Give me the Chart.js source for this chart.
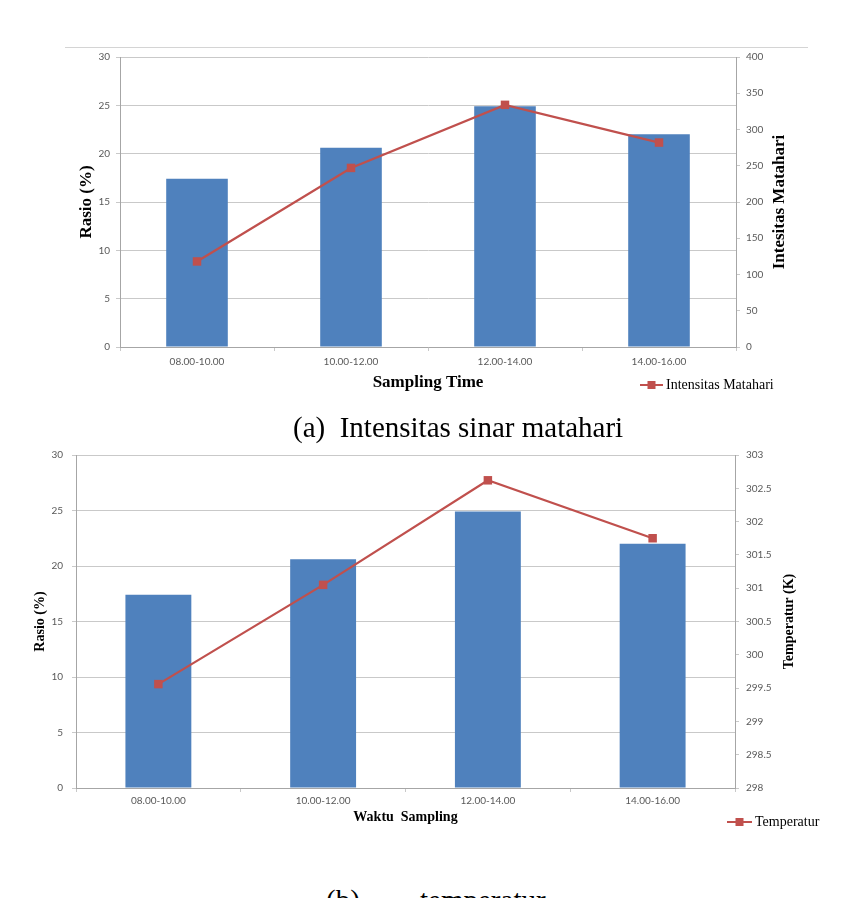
<!DOCTYPE html>
<html>
<head>
<meta charset="utf-8">
<script src="https://cdn.jsdelivr.net/npm/chart.js@4.4.1/dist/chart.umd.min.js"></script>
<style>
  html, body { margin: 0; padding: 0; background: #fff; }
  body { width: 853px; height: 898px; position: relative; overflow: hidden; }
  canvas { position: absolute; left: 0; }
  #chartA { top: 0; }
  #chartB { top: 400px; }
  .rule { position: absolute; left: 65px; width: 743px; top: 47px; border-top: 1px solid #d4d4d4; }
  .caption {
    position: absolute;
    font-family: "Liberation Serif", "Times New Roman", serif;
    font-size: 29px;
    line-height: 29px;
    color: #000;
    white-space: pre;
  }
</style>
</head>
<body>
<div class="rule"></div>
<canvas id="chartA" width="853" height="400"></canvas>
<canvas id="chartB" width="853" height="440"></canvas>
<div class="caption" style="left:293px; top:413px;">(a)  Intensitas sinar matahari</div>
<div class="caption" style="left:326px; top:886px;">(b)</div>
<div class="caption" style="left:420px; top:886px;">temperatur</div>

<script>
// --- data ---
const timeSlots = ["08.00-10.00", "10.00-12.00", "12.00-14.00", "14.00-16.00"];
const rasio = [17.4, 20.6, 24.9, 22.0];          // bars, left axis (%)
const intensitas = [118, 247, 334, 282];          // line, right axis (a)
const temperatur = [299.56, 301.05, 302.62, 301.75]; // line, right axis (b), K

const rasioRange = [0, 30, 5];
const intensitasRange = [0, 400, 50];
const temperaturRange = [298, 303, 0.5];

// --- styling ---
const BAR_BLUE = "#4f81bd";
const LINE_RED = "#c0504d";
const GRID = "#c9c9c9";
const AXIS = "#a6a6a6";
const TICK = "#595959";
const SERIF = "'Liberation Serif', 'Times New Roman', serif";
const SANS = "Lato, 'Open Sans', sans-serif";

/**
 * Right-hand axis title, written bottom-to-top like the left one
 * (Chart.js would rotate a right axis title the other way).
 */
const sideTitlePlugin = {
  id: "sideTitle",
  afterDraw(chart, args, opts) {
    if (!opts.text) return;
    const area = chart.chartArea;
    const ctx = chart.ctx;
    ctx.save();
    ctx.translate(area.right + opts.offset, (area.top + area.bottom) / 2);
    ctx.rotate(-Math.PI / 2);
    ctx.font = opts.font;
    ctx.fillStyle = "#000";
    ctx.textAlign = "center";
    ctx.textBaseline = "middle";
    ctx.fillText(opts.text, 0, 0);
    ctx.restore();
  }
};

/**
 * Excel-style legend key for the line series: —■— Label
 */
const lineKeyPlugin = {
  id: "lineKey",
  afterDraw(chart, args, opts) {
    if (!opts.text) return;
    const ctx = chart.ctx;
    const x = chart.chartArea.right + opts.dx;
    const y = chart.chartArea.bottom + opts.dy;
    ctx.save();
    ctx.strokeStyle = LINE_RED;
    ctx.lineWidth = 2;
    ctx.beginPath();
    ctx.moveTo(x, y);
    ctx.lineTo(x + opts.lineLen, y);
    ctx.stroke();
    ctx.fillStyle = LINE_RED;
    ctx.fillRect(x + opts.lineLen / 2 - opts.box / 2, y - opts.box / 2, opts.box, opts.box);
    ctx.font = opts.font;
    ctx.fillStyle = "#000";
    ctx.textAlign = "left";
    ctx.textBaseline = "middle";
    ctx.fillText(opts.text, x + opts.lineLen + 3, y);
    ctx.restore();
  }
};

// Excel drops the trailing ".0" (303, 302.5, 302 ...)
const plainNumber = (value) => String(Number(value.toFixed(1)));

function buildChart(canvasId, s) {
  const ctx = document.getElementById(canvasId).getContext("2d");
  const tickFont = { family: SANS, size: 10 };

  return new Chart(ctx, {
    type: "bar",
    data: {
      labels: timeSlots,
      datasets: [
        {
          type: "line",
          label: s.lineLabel,
          data: s.lineData,
          yAxisID: "y1",
          borderColor: LINE_RED,
          borderWidth: 2.25,
          pointStyle: "rect",
          pointRadius: 6,
          pointBackgroundColor: LINE_RED,
          pointBorderWidth: 0,
          tension: 0,
          order: 0
        },
        {
          type: "bar",
          label: "Rasio",
          data: rasio,
          yAxisID: "y",
          backgroundColor: BAR_BLUE,
          categoryPercentage: 1,
          barPercentage: 0.4,
          order: 1
        }
      ]
    },
    options: {
      responsive: false,
      animation: false,
      layout: { padding: s.padding },
      plugins: {
        legend: { display: false },
        tooltip: { enabled: false },
        sideTitle: { text: s.rightTitle, font: s.titleFont, offset: s.rightTitleOffset },
        lineKey: s.key
      },
      scales: {
        x: {
          grid: { drawOnChartArea: false, offset: true, tickLength: 4, color: GRID },
          border: { color: AXIS },
          ticks: { color: TICK, font: tickFont, padding: s.xTickPad, maxRotation: 0 },
          title: {
            display: true,
            text: s.xTitle,
            color: "#000",
            font: { family: SERIF, size: s.titleSize, weight: "bold" },
            padding: { top: 0, bottom: s.xTitlePad }
          },
          afterFit: (axis) => { axis.height = s.xHeight; }
        },
        y: {
          position: "left",
          min: rasioRange[0],
          max: rasioRange[1],
          ticks: { stepSize: rasioRange[2], color: TICK, font: tickFont, padding: s.leftTickPad, callback: plainNumber },
          grid: { color: GRID, tickLength: 4 },
          border: { color: AXIS },
          title: {
            display: true,
            text: "Rasio (%)",
            color: "#000",
            font: { family: SERIF, size: s.titleSize, weight: "bold" },
            padding: { top: s.leftTitlePad, bottom: 0 }
          },
          afterFit: (axis) => { axis.width = s.leftWidth; }
        },
        y1: {
          position: "right",
          min: s.rightRange[0],
          max: s.rightRange[1],
          ticks: { stepSize: s.rightRange[2], color: TICK, font: tickFont, padding: s.rightTickPad, callback: plainNumber },
          grid: { drawOnChartArea: false, color: GRID, tickLength: 4 },
          border: { color: AXIS },
          afterFit: (axis) => { axis.width = s.rightWidth; }
        }
      }
    },
    plugins: [sideTitlePlugin, lineKeyPlugin]
  });
}

// (a) solar intensity
buildChart("chartA", {
  lineLabel: "Intensitas Matahari",
  lineData: intensitas,
  rightRange: intensitasRange,
  rightTitle: "Intesitas Matahari",
  rightTitleOffset: 44,
  titleSize: 17,
  titleFont: "bold 17px " + SERIF,
  xTitle: "Sampling Time",
  padding: { top: 57, left: 0, right: 0, bottom: 3 },
  xHeight: 50,
  xTickPad: 5,
  xTitlePad: 4,
  leftWidth: 120,
  leftTitlePad: 76,
  leftTickPad: 6,
  rightWidth: 117,
  rightTickPad: 6,
  key: { text: "Intensitas Matahari", font: "14px " + SERIF, dx: -96, dy: 38, lineLen: 23, box: 8 }
});

// (b) temperature
buildChart("chartB", {
  lineLabel: "Temperatur",
  lineData: temperatur,
  rightRange: temperaturRange,
  rightTitle: "Temperatur (K)",
  rightTitleOffset: 54,
  titleSize: 14,
  titleFont: "bold 14px " + SERIF,
  xTitle: "Waktu  Sampling",
  padding: { top: 55, left: 0, right: 0, bottom: 8 },
  xHeight: 44,
  xTickPad: 3,
  xTitlePad: 6,
  leftWidth: 76,
  leftTitlePad: 32,
  leftTickPad: 9,
  rightWidth: 118,
  rightTickPad: 7,
  key: { text: "Temperatur", font: "14px " + SERIF, dx: -8, dy: 34, lineLen: 25, box: 8 }
});
</script>
</body>
</html>
